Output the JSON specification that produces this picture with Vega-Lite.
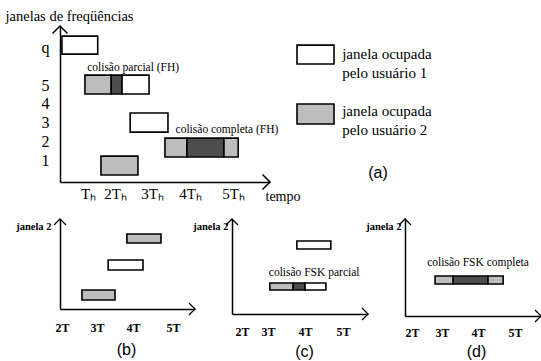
{
  "$schema": "https://vega.github.io/schema/vega-lite/v6.json",
  "background": "white",
  "padding": {"left": 5, "top": 8, "right": 0, "bottom": 4},
  "bounds": "flush",
  "spacing": 37,
  "config": {
    "view": {"stroke": null},
    "font": "Liberation Serif",
    "text": {"font": "Liberation Serif"},
    "axis": {
      "grid": false,
      "ticks": false,
      "domainColor": "black",
      "domainWidth": 1.5,
      "labelColor": "black",
      "titleColor": "black",
      "labelFont": "Liberation Serif",
      "titleFont": "Liberation Serif"
    }
  },
  "datasets": {
    "a_windows": [
      {"t": 0.07, "t2": 1.36, "f": 6.65, "f2": 7.61, "kind": "usuário 1"},
      {"t": 0.89, "t2": 1.86, "f": 4.52, "f2": 5.53, "kind": "usuário 2"},
      {"t": 1.86, "t2": 2.19, "f": 4.52, "f2": 5.53, "kind": "colisão"},
      {"t": 2.19, "t2": 2.92, "f": 4.52, "f2": 5.53, "kind": "usuário 1"},
      {"t": 2.41, "t2": 3.42, "f": 2.49, "f2": 3.51, "kind": "usuário 1"},
      {"t": 3.34, "t2": 3.92, "f": 1.16, "f2": 2.17, "kind": "usuário 2"},
      {"t": 3.92, "t2": 4.79, "f": 1.16, "f2": 2.17, "kind": "colisão"},
      {"t": 4.79, "t2": 5.14, "f": 1.16, "f2": 2.17, "kind": "usuário 2"},
      {"t": 1.48, "t2": 2.62, "f": 0.2, "f2": 1.21, "kind": "usuário 2"}
    ],
    "a_key": [
      {"t": 6.73, "t2": 7.73, "f": 6.12, "f2": 7.13, "kind": "usuário 1"},
      {"t": 6.73, "t2": 7.73, "f": 2.92, "f2": 3.99, "kind": "usuário 2"}
    ],
    "a_key_text": [
      {"t": 7.95, "f": 7.05, "label": "janela ocupada\npelo usuário 1"},
      {"t": 7.95, "f": 4.01, "label": "janela ocupada\npelo usuário 2"}
    ],
    "a_notes": [
      {"t": 2.49, "f": 5.91, "note": "colisão parcial (FH)"},
      {"t": 4.86, "f": 2.6, "note": "colisão completa (FH)"}
    ],
    "a_panel": [
      {"t": 8.92, "f": 0.31, "label": "(a)"}
    ],
    "a_arrows": [
      {"t": 0, "f": 8.15, "dir": "up"},
      {"t": 6, "f": -0.17, "dir": "right"}
    ],
    "b_windows": [
      {"t": 2.57, "t2": 3.5, "f": 1.0, "f2": 2.11, "kind": "usuário 2"},
      {"t": 3.31, "t2": 4.25, "f": 4.33, "f2": 5.44, "kind": "usuário 1"},
      {"t": 3.83, "t2": 4.7, "f": 7.33, "f2": 8.33, "kind": "usuário 2"}
    ],
    "b_arrows": [
      {"t": 1.94, "f": 10, "dir": "up"},
      {"t": 5.55, "f": 0, "dir": "right"}
    ],
    "c_windows": [
      {"t": 3.78, "t2": 4.68, "f": 6.84, "f2": 7.68, "kind": "usuário 1"},
      {"t": 3.05, "t2": 3.68, "f": 2.53, "f2": 3.26, "kind": "usuário 2"},
      {"t": 3.68, "t2": 4.0, "f": 2.53, "f2": 3.26, "kind": "colisão"},
      {"t": 4.0, "t2": 4.55, "f": 2.53, "f2": 3.26, "kind": "usuário 1"}
    ],
    "c_notes": [
      {"t": 4.24, "f": 4.32, "note": "colisão FSK parcial"}
    ],
    "c_arrows": [
      {"t": 1.62, "f": 10, "dir": "up"},
      {"t": 5.66, "f": 0, "dir": "right"}
    ],
    "d_windows": [
      {"t": 2.77, "t2": 3.31, "f": 3.3, "f2": 4.12, "kind": "usuário 2"},
      {"t": 3.31, "t2": 4.27, "f": 3.3, "f2": 4.12, "kind": "colisão"},
      {"t": 4.27, "t2": 4.68, "f": 3.3, "f2": 4.12, "kind": "usuário 2"}
    ],
    "d_notes": [
      {"t": 4.0, "f": 5.46, "note": "colisão FSK completa"}
    ],
    "d_arrows": [
      {"t": 1.77, "f": 10, "dir": "up"},
      {"t": 5.7, "f": 0, "dir": "right"}
    ]
  },
  "vconcat": [
    {
      "width": 210,
      "height": 156,
      "encoding": {
        "x": {
          "field": "t",
          "type": "quantitative",
          "scale": {"domain": [0, 1, 2, 3, 4, 5, 6], "range": [0, 28, 55, 92, 130, 173, 210], "nice": false, "zero": false},
          "axis": {
            "values": [1, 2, 3, 4, 5],
            "labelExpr": "datum.value == 1 ? 'Tₕ' : datum.value + 'Tₕ'",
            "labelFontSize": 15,
            "labelPadding": 4,
            "labelAlign": "center",
            "title": "tempo",
            "titleFontSize": 14,
            "titleFontWeight": "normal",
            "titleX": 205,
            "titleY": 14,
            "titleAlign": "left",
            "titleBaseline": "middle"
          }
        },
        "y": {
          "field": "f",
          "type": "quantitative",
          "scale": {"domain": [-0.17, 8.15], "nice": false, "zero": false},
          "axis": {
            "values": [1, 2, 3, 4, 5, 7],
            "labelExpr": "datum.value == 7 ? 'q' : datum.label",
            "labelFontSize": 16,
            "labelFontWeight": "normal",
            "labelPadding": 11,
            "title": "janelas de freqüências",
            "titleFontSize": 14.5,
            "titleFontWeight": "normal",
            "titleAngle": 0,
            "titleAlign": "left",
            "titleBaseline": "middle",
            "titleX": -55,
            "titleY": -10
          }
        }
      },
      "layer": [
        {
          "data": {"name": "a_windows"},
          "mark": {"type": "rect", "stroke": "black", "strokeWidth": 1.6},
          "encoding": {
            "x2": {"field": "t2"},
            "y2": {"field": "f2"},
            "fill": {"field": "kind", "type": "nominal", "scale": {"domain": ["usuário 1", "usuário 2", "colisão"], "range": ["#ffffff", "#bdbdbd", "#4d4d4d"]}, "legend": null}
          }
        },
        {
          "data": {"name": "a_key"},
          "mark": {"type": "rect", "stroke": "black", "strokeWidth": 1.6},
          "encoding": {
            "x2": {"field": "t2"},
            "y2": {"field": "f2"},
            "fill": {"field": "kind", "type": "nominal", "scale": {"domain": ["usuário 1", "usuário 2", "colisão"], "range": ["#ffffff", "#bdbdbd", "#4d4d4d"]}, "legend": null}
          }
        },
        {
          "data": {"name": "a_key_text"},
          "mark": {"type": "text", "align": "left", "baseline": "top", "font": "Liberation Serif", "fontSize": 15, "lineHeight": 19, "lineBreak": "\n", "color": "black"},
          "encoding": {"text": {"field": "label"}}
        },
        {
          "data": {"name": "a_notes"},
          "mark": {"type": "text", "align": "center", "baseline": "middle", "font": "Liberation Serif", "fontSize": 11.5, "color": "black"},
          "encoding": {"text": {"field": "note"}}
        },
        {
          "data": {"name": "a_panel"},
          "mark": {"type": "text", "align": "center", "baseline": "middle", "fontSize": 16, "font": "Liberation Sans", "color": "black"},
          "encoding": {"text": {"field": "label"}}
        },
        {
          "data": {"name": "a_arrows"},
          "mark": {"type": "point", "filled": false, "stroke": "black", "strokeWidth": 1.5, "size": 225, "opacity": 1},
          "encoding": {
            "shape": {"field": "dir", "type": "nominal", "scale": {"domain": ["up", "right"], "range": ["M-1,1L0,0L1,1", "M-1,-1L0,0L-1,1"]}, "legend": null}
          }
        }
      ]
    },
    {
      "hconcat": [
        {
          "width": 135,
          "height": 90,
          "encoding": {
            "x": {
              "field": "t",
              "type": "quantitative",
              "scale": {"domain": [1.94, 2, 3, 4, 5, 5.55], "range": [0, 2, 37, 73, 113, 135], "nice": false, "zero": false},
              "axis": {
                "values": [2, 3, 4, 5],
                "labelExpr": "datum.value + 'T'",
                "labelFontSize": 12,
                "labelFontWeight": "bold",
                "labelPadding": 13,
                "title": "(b)",
                "titleFont": "Liberation Sans",
                "titleFontSize": 16,
                "titleFontWeight": "normal",
                "titleX": 66,
                "titleY": 40,
                "titleAlign": "center",
                "titleBaseline": "middle"
              }
            },
            "y": {
              "field": "f",
              "type": "quantitative",
              "scale": {"domain": [0, 10], "nice": false, "zero": false},
              "axis": {
                "labels": false,
                "title": "janela 2",
                "titleFontSize": 10.5,
                "titleFontWeight": "bold",
                "titleAngle": 0,
                "titleAlign": "right",
                "titleBaseline": "middle",
                "titleX": -9,
                "titleY": 7
              }
            }
          },
          "layer": [
            {
              "data": {"name": "b_windows"},
              "mark": {"type": "rect", "stroke": "black", "strokeWidth": 1.6},
              "encoding": {
                "x2": {"field": "t2"},
                "y2": {"field": "f2"},
                "fill": {"field": "kind", "type": "nominal", "scale": {"domain": ["usuário 1", "usuário 2", "colisão"], "range": ["#ffffff", "#bdbdbd", "#4d4d4d"]}, "legend": null}
              }
            },
            {
              "data": {"name": "b_arrows"},
              "mark": {"type": "point", "filled": false, "stroke": "black", "strokeWidth": 1.3, "size": 144, "opacity": 1},
              "encoding": {
                "shape": {"field": "dir", "type": "nominal", "scale": {"domain": ["up", "right"], "range": ["M-1,1L0,0L1,1", "M-1,-1L0,0L-1,1"]}, "legend": null}
              }
            }
          ]
        },
        {
          "width": 136,
          "height": 95,
          "encoding": {
            "x": {
              "field": "t",
              "type": "quantitative",
              "scale": {"domain": [1.62, 2, 3, 4, 5, 5.66], "range": [0, 10, 36, 73, 111, 136], "nice": false, "zero": false},
              "axis": {
                "values": [2, 3, 4, 5],
                "labelExpr": "datum.value + 'T'",
                "labelFontSize": 12,
                "labelFontWeight": "bold",
                "labelPadding": 12,
                "title": "(c)",
                "titleFont": "Liberation Sans",
                "titleFontSize": 16,
                "titleFontWeight": "normal",
                "titleX": 72,
                "titleY": 37,
                "titleAlign": "center",
                "titleBaseline": "middle"
              }
            },
            "y": {
              "field": "f",
              "type": "quantitative",
              "scale": {"domain": [0, 10], "nice": false, "zero": false},
              "axis": {
                "labels": false,
                "title": "janela 2",
                "titleFontSize": 10.5,
                "titleFontWeight": "bold",
                "titleAngle": 0,
                "titleAlign": "right",
                "titleBaseline": "middle",
                "titleX": -4,
                "titleY": 7
              }
            }
          },
          "layer": [
            {
              "data": {"name": "c_windows"},
              "mark": {"type": "rect", "stroke": "black", "strokeWidth": 1.6},
              "encoding": {
                "x2": {"field": "t2"},
                "y2": {"field": "f2"},
                "fill": {"field": "kind", "type": "nominal", "scale": {"domain": ["usuário 1", "usuário 2", "colisão"], "range": ["#ffffff", "#bdbdbd", "#4d4d4d"]}, "legend": null}
              }
            },
            {
              "data": {"name": "c_notes"},
              "mark": {"type": "text", "align": "center", "baseline": "middle", "font": "Liberation Serif", "fontSize": 11.5, "color": "black"},
              "encoding": {"text": {"field": "note"}}
            },
            {
              "data": {"name": "c_arrows"},
              "mark": {"type": "point", "filled": false, "stroke": "black", "strokeWidth": 1.3, "size": 144, "opacity": 1},
              "encoding": {
                "shape": {"field": "dir", "type": "nominal", "scale": {"domain": ["up", "right"], "range": ["M-1,1L0,0L1,1", "M-1,-1L0,0L-1,1"]}, "legend": null}
              }
            }
          ]
        },
        {
          "width": 136,
          "height": 97,
          "encoding": {
            "x": {
              "field": "t",
              "type": "quantitative",
              "scale": {"domain": [1.77, 2, 3, 4, 5, 5.7], "range": [0, 7, 37, 73, 110, 136], "nice": false, "zero": false},
              "axis": {
                "values": [2, 3, 4, 5],
                "labelExpr": "datum.value + 'T'",
                "labelFontSize": 12,
                "labelFontWeight": "bold",
                "labelPadding": 11,
                "title": "(d)",
                "titleFont": "Liberation Sans",
                "titleFontSize": 16,
                "titleFontWeight": "normal",
                "titleX": 71,
                "titleY": 35,
                "titleAlign": "center",
                "titleBaseline": "middle"
              }
            },
            "y": {
              "field": "f",
              "type": "quantitative",
              "scale": {"domain": [0, 10], "nice": false, "zero": false},
              "axis": {
                "labels": false,
                "title": "janela 2",
                "titleFontSize": 10.5,
                "titleFontWeight": "bold",
                "titleAngle": 0,
                "titleAlign": "right",
                "titleBaseline": "middle",
                "titleX": -4,
                "titleY": 7
              }
            }
          },
          "layer": [
            {
              "data": {"name": "d_windows"},
              "mark": {"type": "rect", "stroke": "black", "strokeWidth": 1.6},
              "encoding": {
                "x2": {"field": "t2"},
                "y2": {"field": "f2"},
                "fill": {"field": "kind", "type": "nominal", "scale": {"domain": ["usuário 1", "usuário 2", "colisão"], "range": ["#ffffff", "#bdbdbd", "#4d4d4d"]}, "legend": null}
              }
            },
            {
              "data": {"name": "d_notes"},
              "mark": {"type": "text", "align": "center", "baseline": "middle", "font": "Liberation Serif", "fontSize": 11.5, "color": "black"},
              "encoding": {"text": {"field": "note"}}
            },
            {
              "data": {"name": "d_arrows"},
              "mark": {"type": "point", "filled": false, "stroke": "black", "strokeWidth": 1.3, "size": 144, "opacity": 1},
              "encoding": {
                "shape": {"field": "dir", "type": "nominal", "scale": {"domain": ["up", "right"], "range": ["M-1,1L0,0L1,1", "M-1,-1L0,0L-1,1"]}, "legend": null}
              }
            }
          ]
        }
      ],
      "spacing": 37,
      "bounds": "flush"
    }
  ]
}
